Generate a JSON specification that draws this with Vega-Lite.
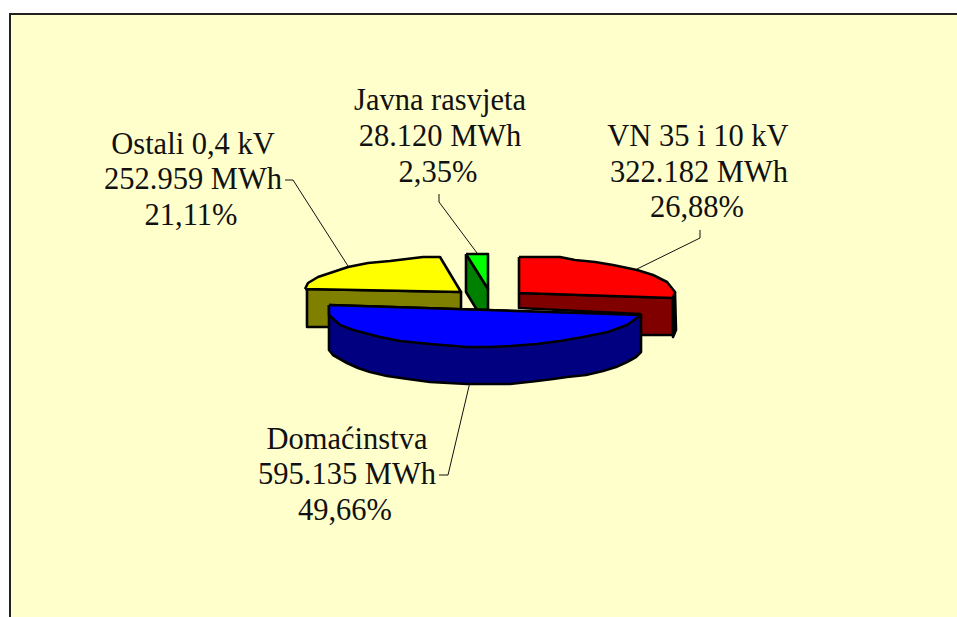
{"$schema":"https://vega.github.io/schema/vega-lite/v6.json","width":957,"height":617,"padding":0,"autosize":"none","background":"white","datasets":{"frame":[{"x":10,"y":14,"x2":970,"y2":630}],"shapes":[
{"part":"yellowSide","i":0,"x":307,"y":289},{"part":"yellowSide","i":1,"x":461,"y":292},{"part":"yellowSide","i":2,"x":461,"y":310},{"part":"yellowSide","i":3,"x":330,"y":327},{"part":"yellowSide","i":4,"x":307,"y":327},{"part":"yellowSide","i":5,"x":307,"y":289},
{"part":"yellowTop","i":0,"x":305,"y":289},{"part":"yellowTop","i":1,"x":308,"y":283},{"part":"yellowTop","i":2,"x":318,"y":277},{"part":"yellowTop","i":3,"x":333,"y":272},{"part":"yellowTop","i":4,"x":348,"y":267},{"part":"yellowTop","i":5,"x":368,"y":263},{"part":"yellowTop","i":6,"x":390,"y":261},{"part":"yellowTop","i":7,"x":423,"y":257},{"part":"yellowTop","i":8,"x":440,"y":257},{"part":"yellowTop","i":9,"x":461,"y":292},{"part":"yellowTop","i":10,"x":305,"y":289},
{"part":"greenSide","i":0,"x":466,"y":254},{"part":"greenSide","i":1,"x":488,"y":289},{"part":"greenSide","i":2,"x":488,"y":310},{"part":"greenSide","i":3,"x":477,"y":310},{"part":"greenSide","i":4,"x":466,"y":292},{"part":"greenSide","i":5,"x":466,"y":254},
{"part":"greenTop","i":0,"x":466,"y":254},{"part":"greenTop","i":1,"x":488,"y":254},{"part":"greenTop","i":2,"x":488,"y":289},{"part":"greenTop","i":3,"x":466,"y":254},
{"part":"redSide","i":0,"x":519,"y":293},{"part":"redSide","i":1,"x":673,"y":298},{"part":"redSide","i":2,"x":673,"y":335},{"part":"redSide","i":3,"x":640,"y":335},{"part":"redSide","i":4,"x":640,"y":314},{"part":"redSide","i":5,"x":519,"y":308},{"part":"redSide","i":6,"x":519,"y":293},
{"part":"redEdge","i":0,"x":675,"y":292},{"part":"redEdge","i":1,"x":676,"y":330},{"part":"redEdge","i":2,"x":673,"y":337},{"part":"redEdge","i":3,"x":673,"y":298},{"part":"redEdge","i":4,"x":675,"y":292},
{"part":"redTop","i":0,"x":519,"y":257},{"part":"redTop","i":1,"x":560,"y":257},{"part":"redTop","i":2,"x":575,"y":260},{"part":"redTop","i":3,"x":595,"y":262},{"part":"redTop","i":4,"x":613,"y":265},{"part":"redTop","i":5,"x":637,"y":270},{"part":"redTop","i":6,"x":653,"y":275},{"part":"redTop","i":7,"x":667,"y":282},{"part":"redTop","i":8,"x":675,"y":292},{"part":"redTop","i":9,"x":673,"y":298},{"part":"redTop","i":10,"x":519,"y":293},{"part":"redTop","i":11,"x":519,"y":257},
{"part":"blueSide","i":0,"x":329,"y":305},{"part":"blueSide","i":1,"x":329,"y":350},{"part":"blueSide","i":2,"x":333,"y":355},{"part":"blueSide","i":3,"x":347,"y":363},{"part":"blueSide","i":4,"x":358,"y":368},{"part":"blueSide","i":5,"x":370,"y":372},{"part":"blueSide","i":6,"x":387,"y":376},{"part":"blueSide","i":7,"x":408,"y":379},{"part":"blueSide","i":8,"x":430,"y":382},{"part":"blueSide","i":9,"x":467,"y":384},{"part":"blueSide","i":10,"x":490,"y":384},{"part":"blueSide","i":11,"x":510,"y":384},{"part":"blueSide","i":12,"x":537,"y":381},{"part":"blueSide","i":13,"x":553,"y":379},{"part":"blueSide","i":14,"x":567,"y":377},{"part":"blueSide","i":15,"x":586,"y":375},{"part":"blueSide","i":16,"x":603,"y":371},{"part":"blueSide","i":17,"x":616,"y":367},{"part":"blueSide","i":18,"x":627,"y":362},{"part":"blueSide","i":19,"x":636,"y":357},{"part":"blueSide","i":20,"x":641,"y":352},{"part":"blueSide","i":21,"x":641,"y":315},{"part":"blueSide","i":22,"x":329,"y":305},
{"part":"blueTop","i":0,"x":329,"y":305},{"part":"blueTop","i":1,"x":641,"y":315},{"part":"blueTop","i":2,"x":627,"y":325},{"part":"blueTop","i":3,"x":608,"y":332},{"part":"blueTop","i":4,"x":583,"y":337},{"part":"blueTop","i":5,"x":560,"y":341},{"part":"blueTop","i":6,"x":537,"y":344},{"part":"blueTop","i":7,"x":510,"y":346},{"part":"blueTop","i":8,"x":490,"y":347},{"part":"blueTop","i":9,"x":467,"y":347},{"part":"blueTop","i":10,"x":430,"y":344},{"part":"blueTop","i":11,"x":400,"y":341},{"part":"blueTop","i":12,"x":380,"y":337},{"part":"blueTop","i":13,"x":353,"y":330},{"part":"blueTop","i":14,"x":340,"y":325},{"part":"blueTop","i":15,"x":329,"y":315},{"part":"blueTop","i":16,"x":329,"y":305}
],"leaders":[
{"k":"Ostali","i":0,"x":285,"y":180},{"k":"Ostali","i":1,"x":293,"y":180},{"k":"Ostali","i":2,"x":348,"y":266},
{"k":"Javna","i":0,"x":439,"y":194},{"k":"Javna","i":1,"x":439,"y":202},{"k":"Javna","i":2,"x":477,"y":253},
{"k":"VN","i":0,"x":700,"y":230},{"k":"VN","i":1,"x":700,"y":238},{"k":"VN","i":2,"x":637,"y":269},
{"k":"Dom","i":0,"x":439,"y":475},{"k":"Dom","i":1,"x":448,"y":475},{"k":"Dom","i":2,"x":470,"y":382}
],"labels":[
{"t":"Ostali 0,4 kV","x":193,"y":154},{"t":"252.959 MWh","x":193,"y":189},{"t":"21,11%","x":191,"y":225},
{"t":"Javna rasvjeta","x":440,"y":110},{"t":"28.120 MWh","x":440,"y":146},{"t":"2,35%","x":438,"y":182},
{"t":"VN 35 i 10 kV","x":698,"y":146},{"t":"322.182 MWh","x":699,"y":182},{"t":"26,88%","x":697,"y":217},
{"t":"Domaćinstva","x":347,"y":449},{"t":"595.135 MWh","x":347,"y":484},{"t":"49,66%","x":345,"y":520}
]},
"config":{"view":{"stroke":null}},
"layer":[
{"data":{"name":"frame"},"mark":{"type":"rect","fill":"#FFFFCC","stroke":"#222222","strokeWidth":2},"encoding":{"x":{"field":"x","type":"quantitative","scale":{"domain":[0,957],"nice":false,"zero":false},"axis":null},"x2":{"field":"x2"},"y":{"field":"y","type":"quantitative","scale":{"domain":[617,0],"nice":false,"zero":false},"axis":null},"y2":{"field":"y2"}}},
{"data":{"name":"shapes"},"mark":{"type":"line","filled":true,"stroke":"black","strokeWidth":2.6,"strokeJoin":"round"},"encoding":{"x":{"field":"x","type":"quantitative"},"y":{"field":"y","type":"quantitative"},"order":{"field":"i","type":"quantitative"},"detail":{"field":"part"},"fill":{"field":"part","type":"nominal","legend":null,"sort":null,"scale":{"domain":["yellowSide","yellowTop","greenSide","greenTop","redSide","redEdge","redTop","blueSide","blueTop"],"range":["#808000","#FFFF00","#008000","#00FF00","#800000","#000000","#FF0000","#000080","#0000FF"]}}}},
{"data":{"name":"leaders"},"mark":{"type":"line","stroke":"#111111","strokeWidth":1},"encoding":{"x":{"field":"x","type":"quantitative"},"y":{"field":"y","type":"quantitative"},"order":{"field":"i","type":"quantitative"},"detail":{"field":"k"}}},
{"data":{"name":"labels"},"mark":{"type":"text","font":"Liberation Serif","fontSize":30.5,"fill":"#111111","align":"center","baseline":"alphabetic"},"encoding":{"x":{"field":"x","type":"quantitative"},"y":{"field":"y","type":"quantitative"},"text":{"field":"t"}}}
]}
